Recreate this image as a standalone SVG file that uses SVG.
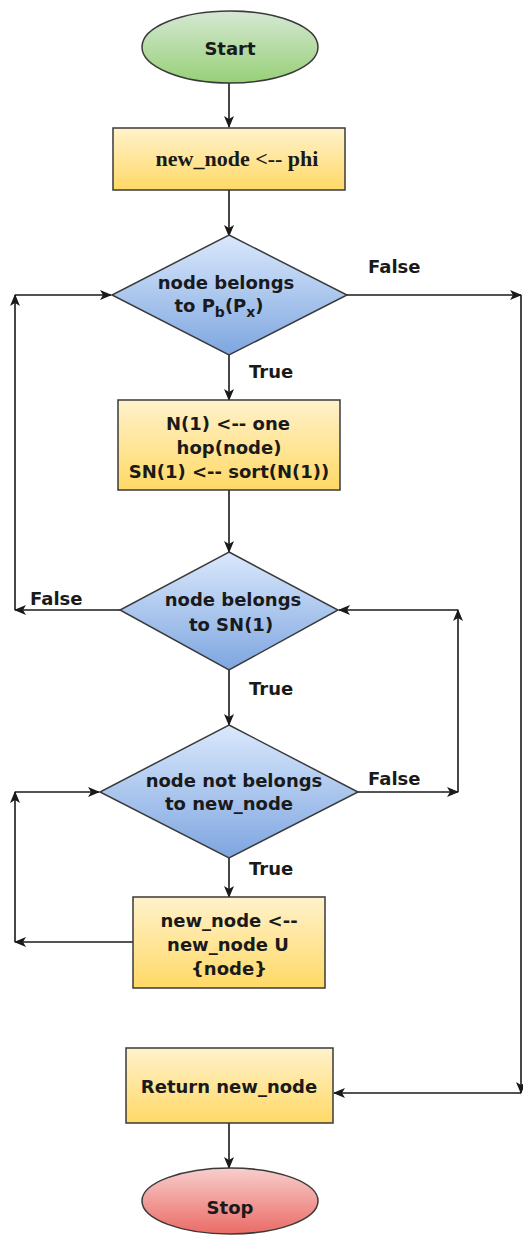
<svg xmlns="http://www.w3.org/2000/svg" width="523" height="1239" viewBox="0 0 523 1239">
<style>
.t{font-family:"DejaVu Sans",Verdana,sans-serif;font-weight:bold;font-size:18px;fill:#1a1a1a;text-anchor:middle}
.lbl{font-family:"DejaVu Sans",Verdana,sans-serif;font-weight:bold;font-size:18px;fill:#1a1a1a}
.sf{font-family:"Liberation Serif","Times New Roman",serif;font-weight:bold;font-size:22px;fill:#1a1a1a;text-anchor:middle}
.shape{stroke:#3a3a3a;stroke-width:1.5}
.c{fill:none;stroke:#1a1a1a;stroke-width:1.6;marker-end:url(#ah)}
</style>
<defs>
<linearGradient id="gG" x1="0" y1="0" x2="0" y2="1"><stop offset="0" stop-color="#d5e8d4"/><stop offset="1" stop-color="#97d077"/></linearGradient>
<linearGradient id="gY" x1="0" y1="0" x2="0" y2="1"><stop offset="0" stop-color="#fff2cc"/><stop offset="1" stop-color="#ffd966"/></linearGradient>
<linearGradient id="gB" x1="0" y1="0" x2="0" y2="1"><stop offset="0" stop-color="#dae8fc"/><stop offset="1" stop-color="#7ea6e0"/></linearGradient>
<linearGradient id="gR" x1="0" y1="0" x2="0" y2="1"><stop offset="0" stop-color="#f8cecc"/><stop offset="1" stop-color="#ea6b66"/></linearGradient>
<marker id="ah" viewBox="0 0 12 10" refX="11" refY="5" markerWidth="12" markerHeight="10" orient="auto" markerUnits="userSpaceOnUse">
<path d="M0,0 L12,5 L0,10 L3,5 z" fill="#1a1a1a"/>
</marker>
</defs>

<g id="connectors">
<path class="c" d="M229,83 V127"/>
<path class="c" d="M229,190 V236"/>
<path class="c" d="M347,295 H521"/>
<path class="c" d="M521,295 V1093"/>
<path class="c" d="M521,1093 H334"/>
<path class="c" d="M229,355 V400"/>
<path class="c" d="M229,490 V552"/>
<path class="c" d="M120,610 H15"/>
<path class="c" d="M15,610 V295"/>
<path class="c" d="M15,295 H111"/>
<path class="c" d="M229,670 V725"/>
<path class="c" d="M358,792 H458"/>
<path class="c" d="M458,792 V610"/>
<path class="c" d="M458,610 H339"/>
<path class="c" d="M229,858 V897"/>
<path class="c" d="M133,942 H15"/>
<path class="c" d="M15,942 V792"/>
<path class="c" d="M15,792 H99"/>
<path class="c" d="M229,1123 V1168"/>
<text class="lbl" x="368" y="273">False</text>
<text class="lbl" x="249" y="378">True</text>
<text class="lbl" x="30" y="605">False</text>
<text class="lbl" x="249" y="695">True</text>
<text class="lbl" x="368" y="785">False</text>
<text class="lbl" x="249" y="875">True</text>
</g>

<g id="start">
<ellipse class="shape" cx="230" cy="47" rx="88" ry="36" fill="url(#gG)"/>
<text class="t" x="230" y="55">Start</text>
</g>

<g id="init">
<rect class="shape" x="113" y="128" width="232" height="62" fill="url(#gY)"/>
<text class="sf" x="237" y="166">new_node &lt;-- phi</text>
</g>

<g id="dec1">
<polygon class="shape" points="229,235 347,295 229,355 112,295" fill="url(#gB)"/>
<text class="t" x="226" y="289">node belongs</text>
<text class="t" x="219" y="312">to P<tspan font-size="14" dy="5">b</tspan><tspan dy="-5">(P</tspan><tspan font-size="14" dy="5">x</tspan><tspan dy="-5">)</tspan></text>
</g>

<g id="hop">
<rect class="shape" x="118" y="400" width="222" height="90" fill="url(#gY)"/>
<text class="t" x="228" y="430">N(1) &lt;-- one</text>
<text class="t" x="229" y="454">hop(node)</text>
<text class="t" x="229" y="478">SN(1) &lt;-- sort(N(1))</text>
</g>

<g id="dec2">
<polygon class="shape" points="229,552 338,610 229,670 120,610" fill="url(#gB)"/>
<text class="t" x="233" y="606">node belongs</text>
<text class="t" x="231" y="631">to SN(1)</text>
</g>

<g id="dec3">
<polygon class="shape" points="229,725 358,792 229,858 100,792" fill="url(#gB)"/>
<text class="t" x="234" y="787">node not belongs</text>
<text class="t" x="229" y="810">to new_node</text>
</g>

<g id="add">
<rect class="shape" x="133" y="897" width="192" height="91" fill="url(#gY)"/>
<text class="t" x="229" y="927">new_node &lt;--</text>
<text class="t" x="228" y="951">new_node U</text>
<text class="t" x="229" y="975">{node}</text>
</g>

<g id="ret">
<rect class="shape" x="126" y="1048" width="207" height="75" fill="url(#gY)"/>
<text class="t" x="229" y="1093">Return new_node</text>
</g>

<g id="stop">
<ellipse class="shape" cx="230" cy="1201" rx="88" ry="33" fill="url(#gR)"/>
<text class="t" x="230" y="1214">Stop</text>
</g>
</svg>
